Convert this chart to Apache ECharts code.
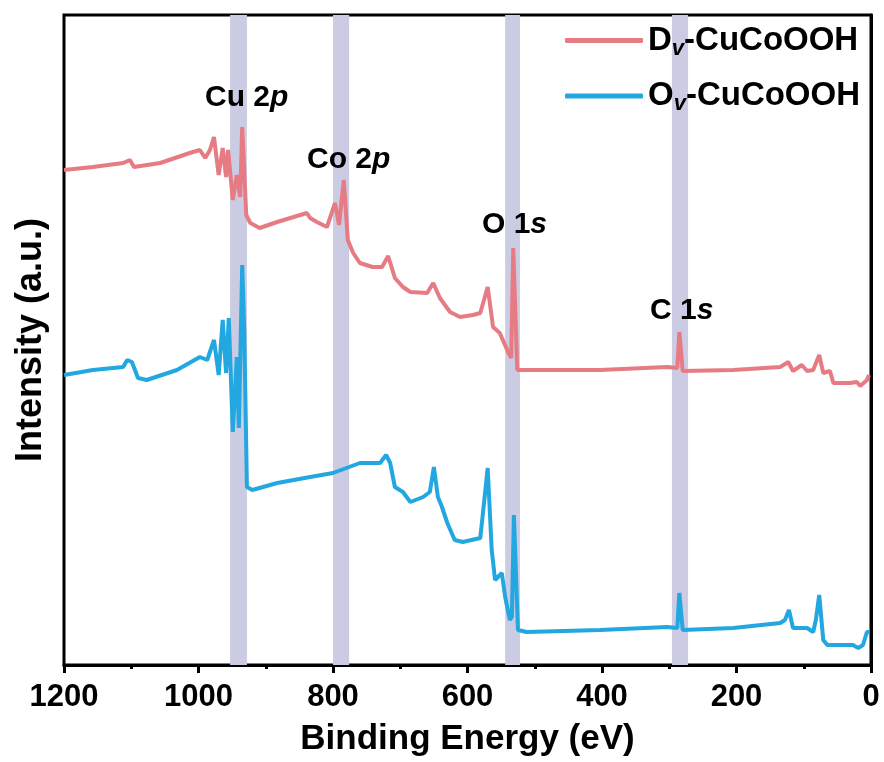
<!DOCTYPE html>
<html>
<head>
<meta charset="utf-8">
<script src="https://cdn.jsdelivr.net/npm/echarts@6/dist/echarts.min.js"></script>
<style>
  html, body { margin: 0; padding: 0; background: #fff; }
  #chart { width: 884px; height: 762px; }
</style>
</head>
<body>
<div id="chart"></div>
<script>
  // binding energy (eV) / intensity (a.u.)
  var dvEnergy = [1200, 1157, 1112, 1102, 1096, 1057, 1013, 998, 990, 983, 977, 970, 964, 959, 956, 949, 943, 938, 935, 929,
    923, 909, 883, 839, 834, 824, 809, 797, 791, 784, 778, 770, 760, 741, 727, 718, 708, 696, 685, 660,
    651, 641, 626, 611, 592, 581, 570, 562, 552, 541, 535, 532, 526, 512, 403, 303, 288, 285, 280, 205,
    135, 123, 116, 103, 95, 86, 77, 71, 61, 56, 31, 21, 16, 6, 3]
  var dvIntensity = [495, 498, 502, 505, 498, 502, 512, 515, 507, 515, 528, 490, 517, 488, 515, 465, 490, 468, 538, 450,
    442, 437, 443, 452, 447, 443, 438, 462, 440, 485, 425, 412, 402, 398, 398, 409, 387, 378, 373, 372,
    382, 367, 353, 348, 350, 352, 378, 338, 332, 315, 307, 417, 295, 295, 295, 298, 297, 333, 294, 295,
    298, 303, 294, 300, 294, 295, 310, 292, 294, 282, 282, 283, 279, 285, 290]

  var ovEnergy = [1200, 1157, 1112, 1106, 1099, 1090, 1077, 1032, 998, 987, 977, 970, 964, 959, 955, 949, 943, 940, 935, 932,
    928, 920, 883, 834, 800, 760, 730, 721, 715, 708, 696, 685, 666, 656, 650, 644, 639, 630, 619, 607,
    581, 577, 570, 564, 559, 549, 544, 537, 534, 531, 525, 512, 403, 303, 288, 285, 280, 205, 135, 128,
    122, 116, 95, 86, 82, 77, 71, 65, 27, 19, 12, 6, 3]
  var ovIntensity = [290, 295, 298, 305, 303, 287, 285, 295, 308, 305, 325, 290, 345, 292, 347, 233, 308, 237, 400, 335,
    178, 175, 182, 188, 192, 202, 202, 210, 202, 178, 173, 163, 168, 173, 198, 168, 160, 142, 125, 123,
    127, 152, 197, 115, 85, 92, 68, 45, 48, 150, 35, 33, 35, 38, 37, 72, 35, 37, 42, 45,
    55, 37, 37, 33, 45, 70, 25, 20, 20, 17, 20, 33, 33]

  // shaded regions (eV)
  var bands = [[928, 953], [776, 800], [522, 544], [272, 296]]
  var xTicks = [0, 200, 400, 600, 800, 1000, 1200]

  function pairs(xs, ys) {
    return xs.map(function (x, i) { return [x, ys[i]] })
  }

  var ec = echarts.init(document.getElementById('chart'))
  var font = 'Liberation Sans, Arial, sans-serif'

  function peakLabel(main, ital, left, top) {
    return {
      type: 'text', left: left, top: top, z: 100,
      style: {
        text: '{a|' + main + '}{i|' + ital + '}',
        rich: {
          a: { fontFamily: font, fontWeight: 'bold', fontSize: 30, fill: '#000' },
          i: { fontFamily: font, fontWeight: 'bold', fontStyle: 'italic', fontSize: 30, fill: '#000' }
        }
      }
    }
  }

  ec.setOption({
    animation: false,
    backgroundColor: '#fff',
    grid: {
      left: 64, right: 13, top: 15, bottom: 97,
      show: true, borderColor: '#000', borderWidth: 3
    },
    legend: {
      data: ['Dv-CuCoOOH', 'Ov-CuCoOOH'],
      orient: 'vertical',
      left: 560, top: 19,
      itemWidth: 78, itemHeight: 5, itemGap: 20,
      icon: 'roundRect',
      formatter: function (name) {
        return '{a|' + name.charAt(0) + '}{s|v}{a|' + name.slice(2) + '}'
      },
      textStyle: {
        rich: {
          a: { fontFamily: font, fontWeight: 'bold', fontSize: 33, color: '#000' },
          s: { fontFamily: font, fontWeight: 'bold', fontStyle: 'italic', fontSize: 22, color: '#000', padding: [16, 0, 0, 0] }
        }
      }
    },
    xAxis: {
      type: 'value',
      inverse: true,
      min: 0, max: 1200, interval: 200,
      name: 'Binding Energy (eV)',
      nameLocation: 'middle',
      nameGap: 57,
      nameTextStyle: { fontFamily: font, fontWeight: 'bold', fontSize: 35, color: '#000' },
      axisLine: { lineStyle: { color: '#000', width: 3 } },
      axisTick: { length: 8, lineStyle: { color: '#000', width: 3 } },
      minorTick: { show: true, splitNumber: 2, length: 4, lineStyle: { color: '#000', width: 3 } },
      axisLabel: {
        margin: 17, color: '#000', fontFamily: font, fontWeight: 'bold', fontSize: 31,
        customValues: xTicks,
        formatter: function (v) { return String(v) }
      },
      splitLine: { show: false }
    },
    yAxis: {
      type: 'value',
      min: 0, max: 650,
      name: 'Intensity (a.u.)',
      nameLocation: 'middle',
      nameGap: 15,
      nameTextStyle: { fontFamily: font, fontWeight: 'bold', fontSize: 36, color: '#000' },
      axisLine: { show: true, lineStyle: { color: '#000', width: 3 } },
      axisTick: { show: false },
      axisLabel: { show: false },
      splitLine: { show: false }
    },
    graphic: [
      peakLabel('Cu 2', 'p', 205, 83),
      peakLabel('Co 2', 'p', 307, 145),
      peakLabel('O 1', 's', 482, 210),
      peakLabel('C 1', 's', 650, 296)
    ],
    series: [
      {
        name: 'bands',
        type: 'line',
        data: [],
        z: 1,
        silent: true,
        markArea: {
          silent: true,
          itemStyle: { color: '#cbcbe3', opacity: 1 },
          data: bands.map(function (b) { return [{ xAxis: b[0] }, { xAxis: b[1] }] })
        }
      },
      {
        name: 'Dv-CuCoOOH',
        type: 'line',
        z: 3,
        symbol: 'none',
        color: '#e77b84',
        lineStyle: { width: 4, color: '#e77b84' },
        data: pairs(dvEnergy, dvIntensity)
      },
      {
        name: 'Ov-CuCoOOH',
        type: 'line',
        z: 3,
        symbol: 'none',
        color: '#22a7e0',
        lineStyle: { width: 4, color: '#22a7e0' },
        data: pairs(ovEnergy, ovIntensity)
      }
    ]
  })
</script>
</body>
</html>
